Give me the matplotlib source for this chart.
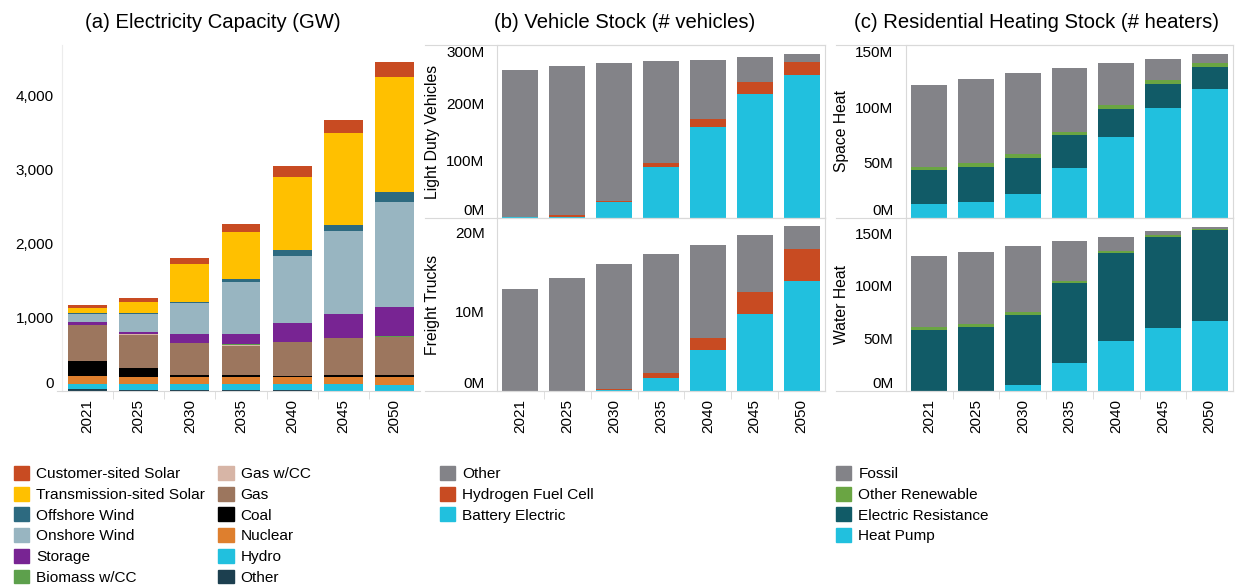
import numpy as np
import matplotlib
matplotlib.use("Agg")
import matplotlib.pyplot as plt
from matplotlib.patches import Patch
from matplotlib.lines import Line2D
from matplotlib.ticker import FuncFormatter

plt.rcParams['font.family'] = ['Liberation Sans', 'DejaVu Sans']

years = ['2021', '2025', '2030', '2035', '2040', '2045', '2050']

# (a) electricity capacity, GW, stacked bottom -> top
elec_names = ['Other', 'Hydro', 'Nuclear', 'Coal', 'Gas', 'Gas w/CC', 'Biomass w/CC',
              'Storage', 'Onshore Wind', 'Offshore Wind', 'Transmission-sited Solar',
              'Customer-sited Solar']
elec_other = [27, 15, 12, 10, 10, 5, 3]
elec_hydro = [70, 82, 85, 87, 87, 92, 74]
elec_nuclear = [105, 92, 92, 92, 92, 92, 112]
elec_coal = [205, 122, 27, 27, 14, 27, 27]
elec_gas = [487, 448, 426, 397, 455, 496, 518]
elec_gascc = [0, 8, 3, 2, 0, 0, 0]
elec_biomass = [0, 0, 5, 25, 9, 8, 14]
elec_storage = [40, 30, 120, 130, 252, 321, 387]
elec_onshore = [113, 248, 419, 707, 905, 1121, 1419]
elec_offshore = [5, 10, 18, 37, 81, 81, 131]
elec_trans_solar = [72, 148, 509, 635, 987, 1243, 1558]
elec_cust_solar = [40, 54, 81, 108, 149, 176, 203]

# (b) vehicle stock, millions
ldv_bev = [1, 1, 27.4, 88.6, 158.6, 216.3, 249.6]
ldv_hfc = [0.5, 3.5, 1.6, 7, 14, 21, 22.7]
ldv_other = [258, 260.5, 241.6, 178.4, 103.2, 43.7, 14]
truck_bev = [0, 0, 0.13, 1.65, 5.2, 9.75, 13.8]
truck_hfc = [0, 0, 0.17, 0.65, 1.5, 2.75, 4.05]
truck_other = [12.9, 14.3, 15.65, 15.0, 11.65, 7.1, 2.95]

# (c) residential heating stock, millions
space_hp = [12.9, 14.7, 21.9, 45.3, 73.3, 99.4, 116.5]
space_er = [30.6, 31.5, 32.5, 29.7, 25.2, 21.6, 19.8]
space_ren = [2.5, 3.3, 3.6, 2.8, 3.3, 3.6, 3.3]
space_fossil = [74, 76, 73, 57.6, 38.2, 18.9, 8.4]
water_hp = [0, 0, 5.7, 26.7, 47.6, 60, 66.7]
water_er = [58.1, 61, 66.7, 76.2, 83.8, 86.7, 86.6]
water_ren = [2.9, 3, 2.6, 1.9, 1.9, 1.9, 1.0]
water_fossil = [67.6, 68.4, 63, 38.1, 13.4, 3.8, 1.9]

elec_colors = ['#1c3f4f', '#21c0de', '#de7f2e', '#000000', '#9c765e', '#d7b5a6', '#5da04c',
               '#782493', '#98b5c1', '#2d6a80', '#ffc000', '#c84b22']
veh_colors = ['#21c0de', '#c84b22', '#838388']
heat_colors = ['#21c0de', '#115b67', '#6aa543', '#838388']

W, H = 1236, 586
frame = '#d9d9d9'
fig = plt.figure(figsize=(W / 100, H / 100), dpi=100)


def box(l, t, r, b):
    return [l / W, 1 - b / H, (r - l) / W, (b - t) / H]


def stack(ax, series, colors, width):
    x = np.arange(len(years))
    bottom = np.zeros(len(years))
    for vals, c in zip(series, colors):
        ax.bar(x, vals, width, bottom=bottom, color=c, linewidth=0)
        bottom += np.array(vals)
    ax.set_xlim(-0.5, len(years) - 0.5)
    ax.set_xticks(x)
    ax.set_xticks(x[:-1] + 0.5, minor=True)
    ax.tick_params(axis='x', which='major', length=0, pad=6, labelsize=11)
    ax.tick_params(axis='x', which='minor', length=6, color=frame)
    ax.tick_params(axis='y', length=0, labelsize=11)
    for s in ax.spines.values():
        s.set_color(frame)
        s.set_linewidth(0.8)


# (a)
ax_a = fig.add_axes(box(62, 45, 420, 391))
stack(ax_a, [elec_other, elec_hydro, elec_nuclear, elec_coal, elec_gas, elec_gascc,
             elec_biomass, elec_storage, elec_onshore, elec_offshore, elec_trans_solar,
             elec_cust_solar], elec_colors, 0.76)
ax_a.set_ylim(0, 4676)
ax_a.set_yticks([0, 1000, 2000, 3000, 4000])
ax_a.yaxis.set_major_formatter(FuncFormatter(lambda v, p: f'{v:,.0f}'))
ax_a.tick_params(axis='y', pad=6)
ax_a.spines['top'].set_visible(False)
ax_a.spines['right'].set_visible(False)
ax_a.spines['left'].set_color('#ececec')
ax_a.set_xticklabels([])
ax_a.get_yticklabels()[0].set_va('bottom')

# (b)
ax_ldv = fig.add_axes(box(497, 45, 825, 218))
stack(ax_ldv, [ldv_bev, ldv_hfc, ldv_other], veh_colors, 0.77)
ax_ldv.set_ylim(0, 302.6)
ax_ldv.set_yticks([0, 100, 200, 300])
ax_ldv.set_xticklabels([])
ax_ldv.tick_params(axis='x', which='minor', length=0)

ax_ft = fig.add_axes(box(497, 218, 825, 391))
stack(ax_ft, [truck_bev, truck_hfc, truck_other], veh_colors, 0.77)
ax_ft.set_ylim(0, 21.8)
ax_ft.set_yticks([0, 10, 20])

# (c)
ax_sh = fig.add_axes(box(906, 45, 1233, 218))
stack(ax_sh, [space_hp, space_er, space_ren, space_fossil], heat_colors, 0.77)
ax_sh.set_ylim(0, 156)
ax_sh.set_yticks([0, 50, 100, 150])
ax_sh.set_xticklabels([])
ax_sh.tick_params(axis='x', which='minor', length=0)

ax_wh = fig.add_axes(box(906, 218, 1233, 391))
stack(ax_wh, [water_hp, water_er, water_ren, water_fossil], heat_colors, 0.77)
ax_wh.set_ylim(0, 164.6)
ax_wh.set_yticks([0, 50, 100, 150])

for ax, lab in [(ax_ldv, 'Light Duty Vehicles'), (ax_ft, 'Freight Trucks'),
                (ax_sh, 'Space Heat'), (ax_wh, 'Water Heat')]:
    ax.yaxis.set_major_formatter(FuncFormatter(lambda v, p: f'{v:.0f}M'))
    ax.tick_params(axis='y', pad=9)
    ax.set_ylabel(lab, fontsize=11.3)
    ax.yaxis.set_label_coords(-57 / 328, 0.5)
    ax.get_yticklabels()[0].set_va('bottom')
ax_ldv.get_yticklabels()[-1].set_va('top')

for ax in [ax_a, ax_ft, ax_wh]:
    ax.set_xticklabels(years, rotation=90, fontsize=11)

# frame lines reaching over the label columns
for x0, x1 in [(425, 825), (836, 1233)]:
    for y in [45, 218, 391]:
        fig.add_artist(Line2D([x0 / W, x1 / W], [1 - y / H, 1 - y / H], color=frame, lw=0.8))
fig.add_artist(Line2D([57 / W, 62 / W], [1 - 391 / H, 1 - 391 / H], color=frame, lw=0.8))

# titles
fig.text(213 / W, 1 - 22 / H, '(a) Electricity Capacity (GW)', ha='center', va='center', fontsize=14.6)
fig.text(625 / W, 1 - 22 / H, '(b) Vehicle Stock (# vehicles)', ha='center', va='center', fontsize=14.6)
fig.text(1036 / W, 1 - 22 / H, '(c) Residential Heating Stock (# heaters)', ha='center', va='center', fontsize=14.6)

# legends
leg_kw = dict(frameon=False, fontsize=11.1, handlelength=1.0, handleheight=1.0,
              handletextpad=0.45, labelspacing=0.36, borderpad=0, borderaxespad=0,
              loc='upper left')
elec_order = ['Customer-sited Solar', 'Transmission-sited Solar', 'Offshore Wind', 'Onshore Wind',
              'Storage', 'Biomass w/CC', 'Gas w/CC', 'Gas', 'Coal', 'Nuclear', 'Hydro', 'Other']
elec_handles = [Patch(color=elec_colors[elec_names.index(n)], label=n) for n in elec_order]
fig.legend(handles=elec_handles, ncol=2, columnspacing=0.85,
           bbox_to_anchor=(14 / W, 1 - 466 / H), **leg_kw)
veh_handles = [Patch(color='#838388', label='Other'),
               Patch(color='#c84b22', label='Hydrogen Fuel Cell'),
               Patch(color='#21c0de', label='Battery Electric')]
fig.legend(handles=veh_handles, bbox_to_anchor=(440 / W, 1 - 466 / H), **leg_kw)
heat_handles = [Patch(color='#838388', label='Fossil'),
                Patch(color='#6aa543', label='Other Renewable'),
                Patch(color='#115b67', label='Electric Resistance'),
                Patch(color='#21c0de', label='Heat Pump')]
fig.legend(handles=heat_handles, bbox_to_anchor=(836 / W, 1 - 466 / H), **leg_kw)

fig.savefig('out.png', dpi=100)
